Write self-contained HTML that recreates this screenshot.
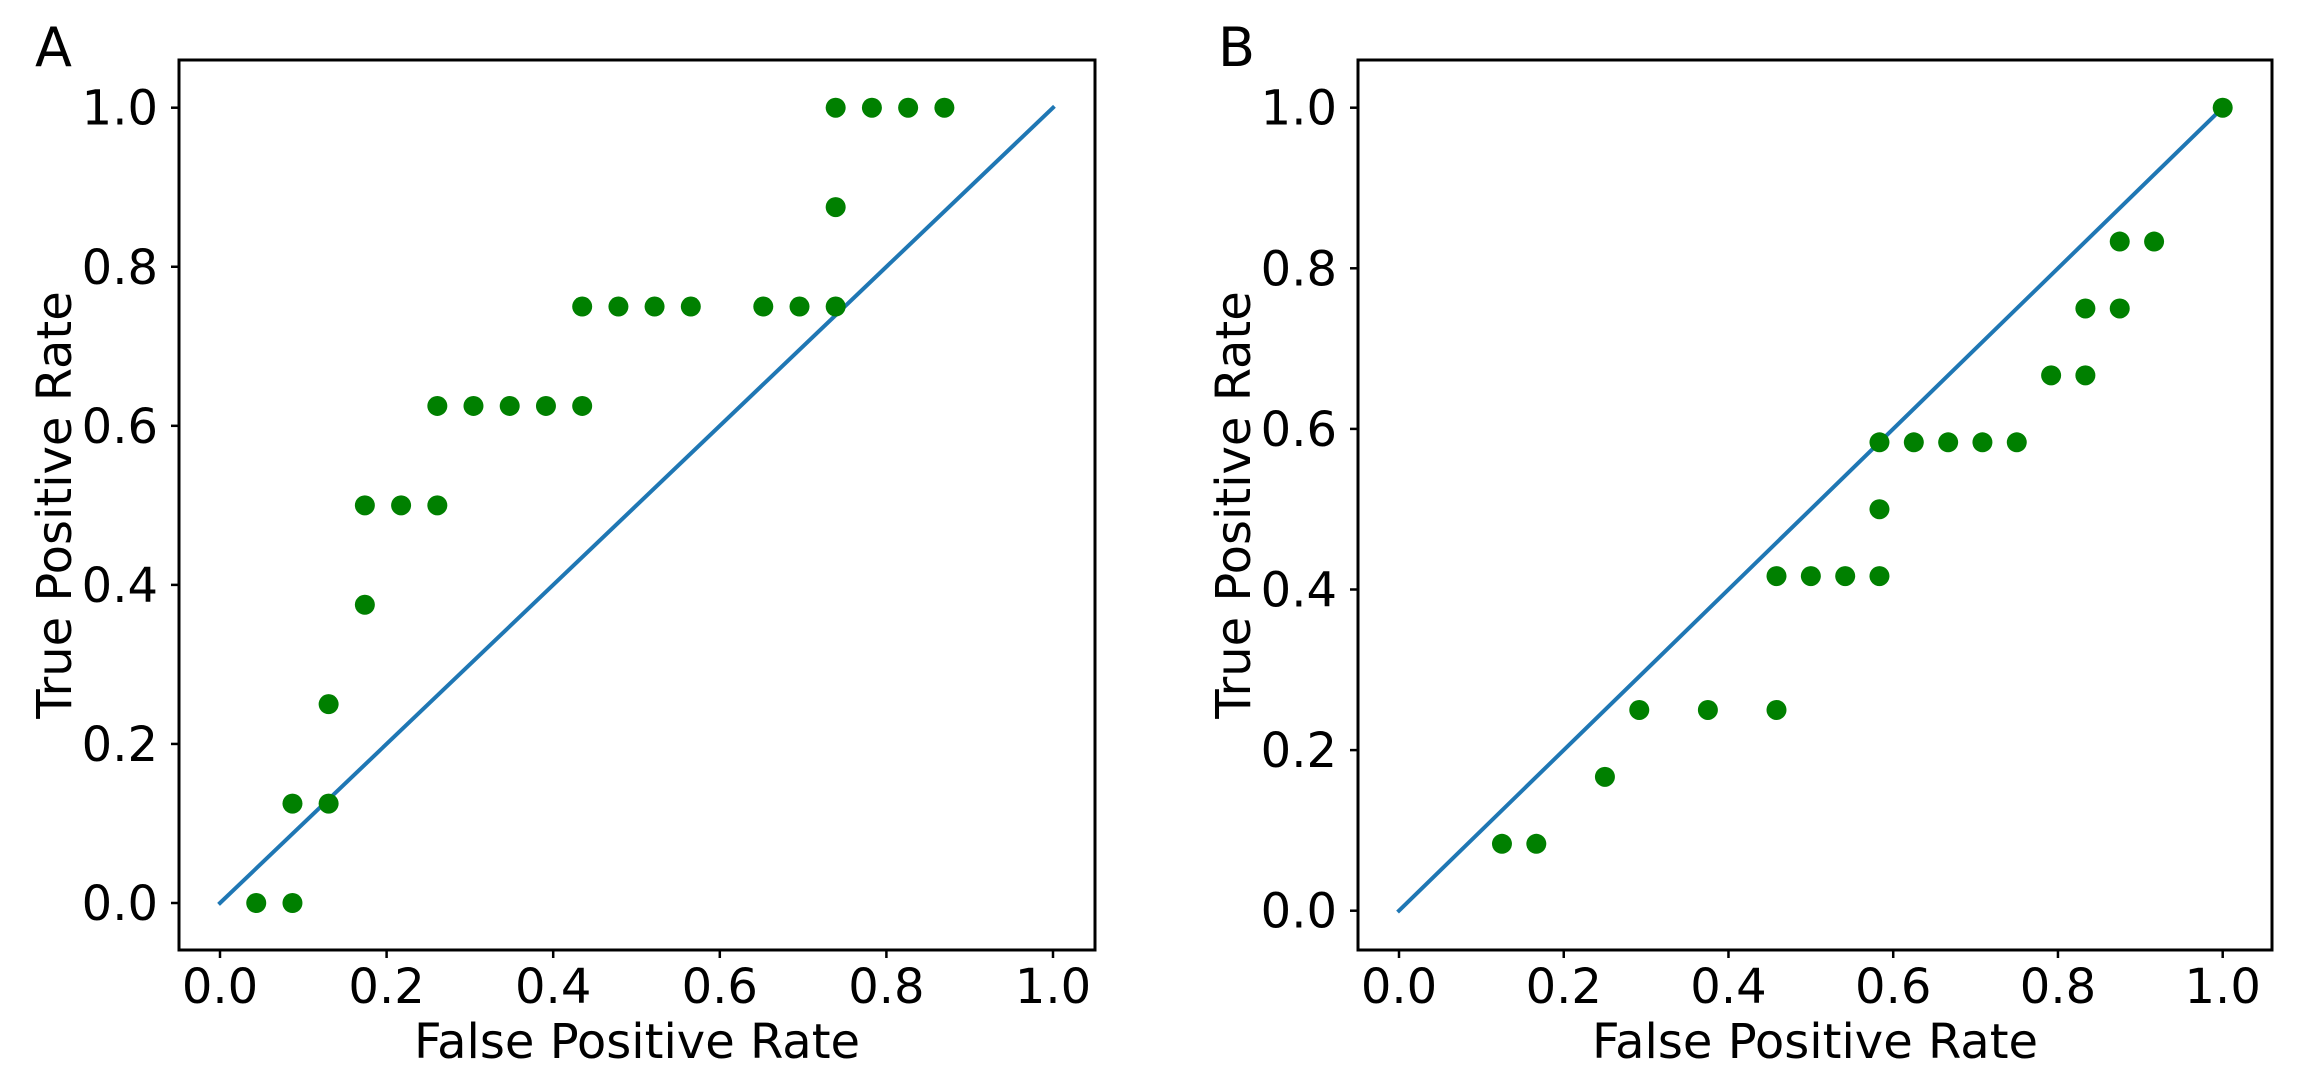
<!DOCTYPE html>
<html><head><meta charset="utf-8"><style>
html,body{margin:0;padding:0;background:#fff;}
svg{display:block;font-family:"DejaVu Sans","Liberation Sans",sans-serif;}
</style></head><body>
<svg id="fig" width="2307" height="1081" viewBox="0 0 2307 1081" xmlns="http://www.w3.org/2000/svg"></svg>
<script>
const ticks = [0, 0.2, 0.4, 0.6, 0.8, 1.0];
const tickLabels = ["0.0", "0.2", "0.4", "0.6", "0.8", "1.0"];
const fprA = [0.0435,0.087,0.087,0.1304,0.1304,0.1739,0.1739,0.2174,0.2609,0.2609,0.3043,0.3478,0.3913,0.4348,0.4348,0.4783,0.5217,0.5652,0.6522,0.6957,0.7391,0.7391,0.7391,0.7826,0.8261,0.8696];
const tprA = [0,0,0.125,0.125,0.25,0.375,0.5,0.5,0.5,0.625,0.625,0.625,0.625,0.625,0.75,0.75,0.75,0.75,0.75,0.75,0.75,0.875,1,1,1,1];
const fprB = [0.125,0.1667,0.25,0.2917,0.375,0.4583,0.4583,0.5,0.5417,0.5833,0.5833,0.5833,0.625,0.6667,0.7083,0.75,0.7917,0.8333,0.8333,0.875,0.875,0.9167,1.0];
const tprB = [0.0833,0.0833,0.1667,0.25,0.25,0.25,0.4167,0.4167,0.4167,0.4167,0.5,0.5833,0.5833,0.5833,0.5833,0.5833,0.6667,0.6667,0.75,0.75,0.8333,0.8333,1.0];
const diagX = [0, 1];
const diagY = [0, 1];

const NS = "http://www.w3.org/2000/svg";
const svg = document.getElementById("fig");
function mk(tag, attrs, parent){const e=document.createElementNS(NS,tag);for(const k in attrs)e.setAttribute(k,attrs[k]);(parent||svg).appendChild(e);return e;}

function panel(id, letter, box, x0px, x1px, y0px, y1px, fx, fy, letterX){
  const g = mk("g", {});
  
  
  const sx = v => x0px + v*(x1px-x0px);
  const sy = v => y0px + v*(y1px-y0px);
  // diagonal
  const ln = mk("line", {x1:sx(diagX[0]),y1:sy(diagY[0]),x2:sx(diagX[1]),y2:sy(diagY[1]),stroke:"#1f77b4","stroke-width":4,"stroke-linecap":"square"}, g);
  
  
  // points
  for(let i=0;i<fx.length;i++){
    const c = mk("circle", {cx:sx(fx[i]),cy:sy(fy[i]),r:10,fill:"#008000"}, g);
    
    
  }
  // frame
  const fr = mk("rect", {x:box.l,y:box.t,width:box.r-box.l,height:box.b-box.t,fill:"none",stroke:"#000","stroke-width":3}, g);
  
  
  // ticks
  for(let i=0;i<ticks.length;i++){
    const xp = sx(ticks[i]);
    const tx = mk("line",{x1:xp,y1:box.b,x2:xp,y2:box.b+8,stroke:"#000","stroke-width":2.5},g);
    
    
    const lx = mk("text",{x:xp,y:1003,"font-size":48,"text-anchor":"middle"},g);
    lx.textContent = tickLabels[i];
    
    
    const yp = sy(ticks[i]);
    const ty = mk("line",{x1:box.l-8,y1:yp,x2:box.l,y2:yp,stroke:"#000","stroke-width":2.5},g);
    
    
    const ly = mk("text",{x:box.l-21,y:yp+17,"font-size":48,"text-anchor":"end"},g);
    ly.textContent = tickLabels[i];
    
    
  }
  const xt = mk("text",{x:(box.l+box.r)/2,y:1058,"font-size":48,"text-anchor":"middle"},g);
  xt.textContent = "False Positive Rate";
  
  
  const cy = (box.t+box.b)/2;
  const yt = mk("text",{x:0,y:0,"font-size":48,"text-anchor":"middle",transform:`translate(${box.l-108},${cy}) rotate(-90)`},g);
  yt.textContent = "True Positive Rate";
  
  
  const pl = mk("text",{x:letterX,y:66,"font-size":54},g);
  pl.textContent = letter;
  
  
}
panel("a","A",{l:179,r:1095,t:60,b:950},220,1053,903,107.7,fprA,tprA,35);
panel("b","B",{l:1358,r:2272,t:60,b:950},1399,2222.7,910.7,107.7,fprB,tprB,1218);
</script>
</body></html>
